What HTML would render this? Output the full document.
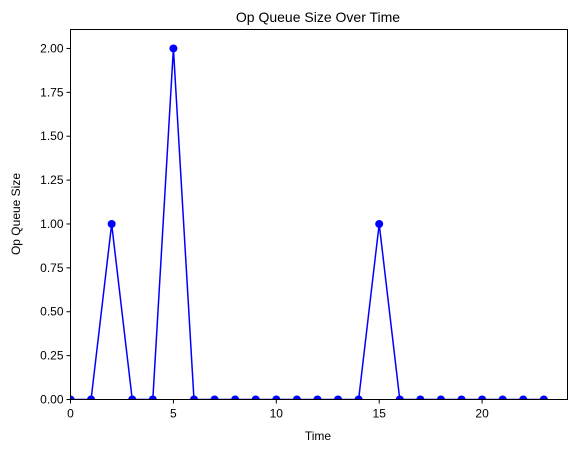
<!DOCTYPE html>
<html><head><meta charset="utf-8"><style>
body{margin:0;background:#fff;}
svg text{font-family:"Liberation Sans","DejaVu Sans",sans-serif;font-size:12px;fill:#000;}
</style></head><body>
<svg id="chart" width="579" height="453">
<defs><clipPath id="clip"><rect x="70.5" y="29.5" width="497" height="370"/></clipPath></defs>
<text x="318" y="22" text-anchor="middle" style="font-size:14px">Op Queue Size Over Time</text>
<text x="318" y="440" text-anchor="middle">Time</text>
<text transform="translate(20,214) rotate(-90)" text-anchor="middle">Op Queue Size</text>
<g id="ticks"></g>
<g id="marks" clip-path="url(#clip)"></g>
<rect x="70.5" y="29.5" width="497" height="370" fill="none" stroke="#000" stroke-width="1"/>
</svg>
<script>
const times=[0,1,2,3,4,5,6,7,8,9,10,11,12,13,14,15,16,17,18,19,20,21,22,23];
const sizes=[0,0,1,0,0,2,0,0,0,0,0,0,0,0,0,1,0,0,0,0,0,0,0,0];
const xTicks=[0,5,10,15,20];
const yTicks=[0,0.25,0.5,0.75,1.0,1.25,1.5,1.75,2.0];
const L=70.5,R=567.5,T=29.5,B=399.5,xMax=24.15,yMax=2.108;
const NS="http://www.w3.org/2000/svg";
function sx(v){return L+(R-L)*v/xMax;}
function sy(v){return B-(B-T)*v/yMax;}
const tg=document.getElementById('ticks'),mg=document.getElementById('marks');
function mk(tag,a,p){const e=document.createElementNS(NS,tag);for(const k in a)e.setAttribute(k,a[k]);p.appendChild(e);return e;}
xTicks.forEach(v=>{
 const l=mk('line',{x1:sx(v),x2:sx(v),y1:B,y2:B+4,stroke:'#000'},tg);
 
 
 const t=mk('text',{x:sx(v),y:B+18,'text-anchor':'middle'},tg);t.textContent=v;
 
 
});
yTicks.forEach(v=>{
 const l=mk('line',{x1:L-4,x2:L,y1:sy(v),y2:sy(v),stroke:'#000'},tg);
 
 
 const t=mk('text',{x:L-7,y:sy(v)+4,'text-anchor':'end'},tg);t.textContent=v.toFixed(2);
 
 
});
const pl=mk('polyline',{points:times.map((t,i)=>sx(t)+','+sy(sizes[i])).join(' '),fill:'none',stroke:'#0000ff','stroke-width':1.5},mg);


times.forEach((t,i)=>{
 const c=mk('circle',{cx:sx(t),cy:sy(sizes[i]),r:4,fill:'#0000ff'},mg);
 
 
});
</script>
</body></html>
